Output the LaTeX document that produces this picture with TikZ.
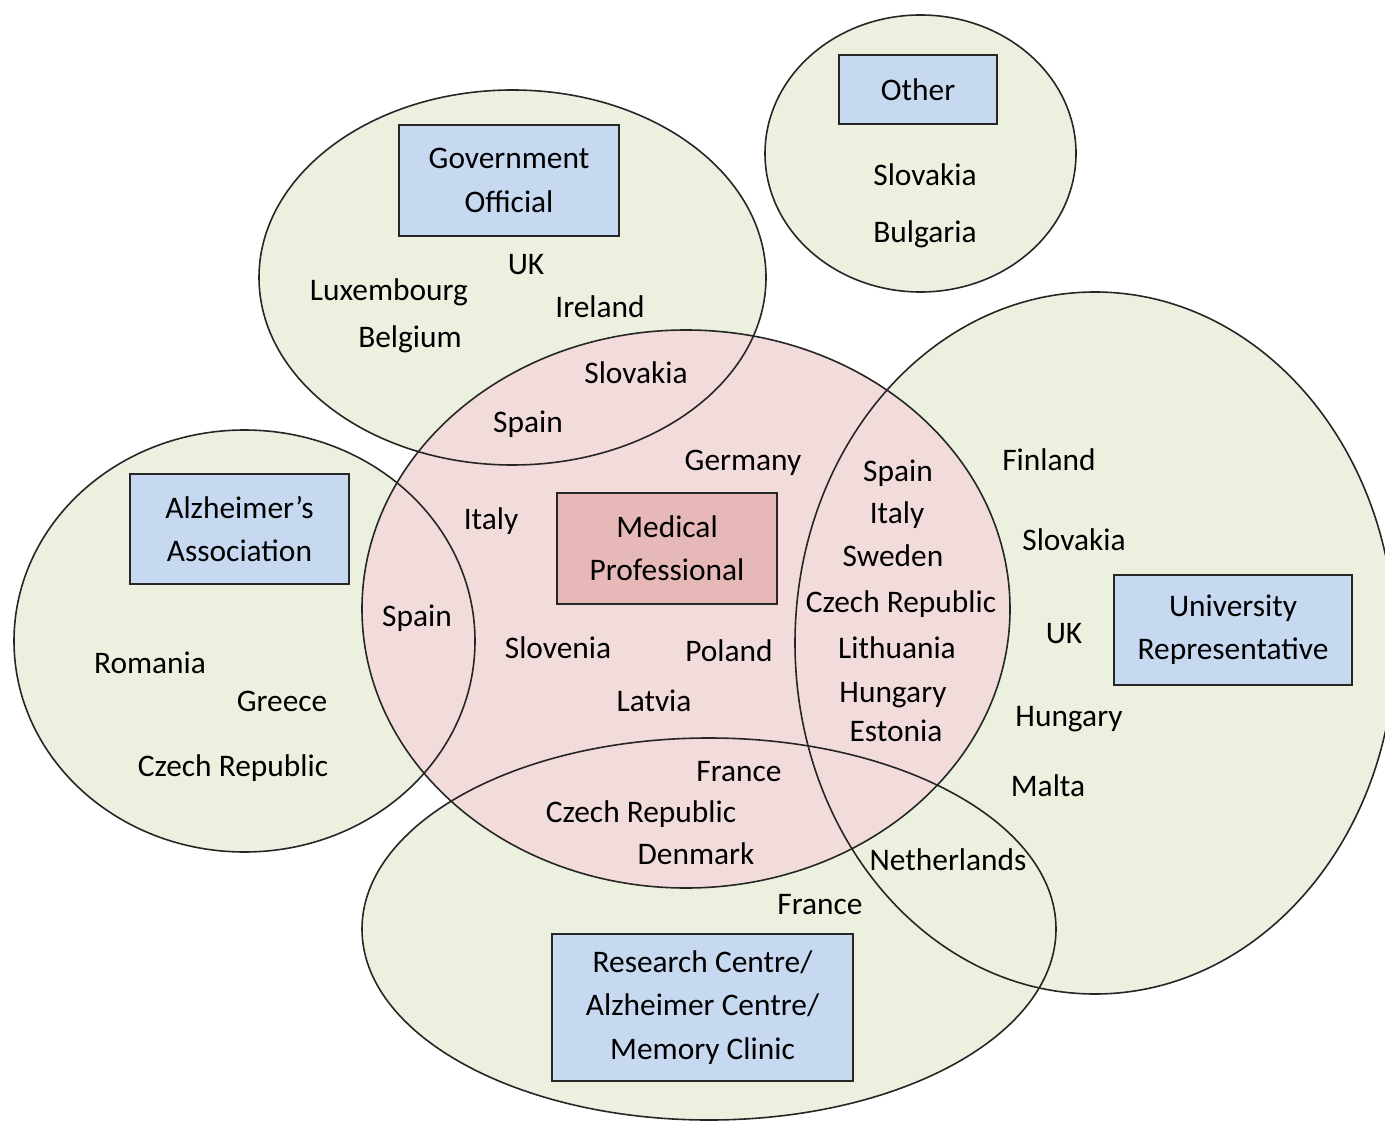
\documentclass[tikz,border=0pt]{standalone}
\usepackage{fontspec}
\setmainfont{Carlito}
\usetikzlibrary{shapes}

\definecolor{grn}{HTML}{EBF1DE}
\definecolor{pnk}{HTML}{F2DCDB}
\definecolor{blu}{HTML}{C6D9F1}
\definecolor{rose}{HTML}{E6B9B8}

\begin{document}
\begin{tikzpicture}[x=0.5pt,y=-0.5pt,
  every node/.style={font=\fontsize{15.7}{21.7}\selectfont},
  ring/.style={draw=black!85, line width=0.8pt},
  box/.style={draw=black!85, line width=1.1pt, fill=blu, align=center, inner sep=0pt},
  lbl/.style={inner sep=0pt, text height=10pt, text depth=0pt}]

\useasboundingbox (0,0) rectangle (1385,1122);
\clip (0,0) rectangle (1385,1122);

% group fills
\fill[grn] (920.5,153.5) ellipse [x radius=155.5, y radius=138.5];
\fill[grn] (512.5,277.5) ellipse [x radius=253.5, y radius=187.5];
\fill[grn] (244.5,641) ellipse [x radius=230.5, y radius=211];
\fill[grn] (1095,643) ellipse [x radius=300, y radius=351];
\fill[grn] (709,929) ellipse [x radius=347, y radius=191];
\fill[pnk] (686,609) ellipse [x radius=324, y radius=279];

% outlines
\draw[ring] (920.5,153.5) ellipse [x radius=155.5, y radius=138.5];
\draw[ring] (512.5,277.5) ellipse [x radius=253.5, y radius=187.5];
\draw[ring] (244.5,641) ellipse [x radius=230.5, y radius=211];
\draw[ring] (1095,643) ellipse [x radius=300, y radius=351];
\draw[ring] (709,929) ellipse [x radius=347, y radius=191];
\draw[ring] (686,609) ellipse [x radius=324, y radius=279];

% boxes
\node[box, minimum width=79pt, minimum height=34.5pt] (oth) at (918,89.5) {Other};
\node[box, minimum width=110pt, minimum height=55.5pt] (gov) at (509,180.5) {Government\\Official};
\node[box, fill=rose, minimum width=110pt, minimum height=55.5pt] (med) at (667,548.5) {Medical\\Professional};
\node[box, minimum width=109.5pt, minimum height=55pt] (alz) at (239.5,529) {Alzheimer’s\\Association};
\node[box, minimum width=119pt, minimum height=55pt] (uni) at (1233,630) {University\\Representative};
\node[box, minimum width=150.5pt, minimum height=73.5pt] (res) at (702.5,1007.5) {Research Centre/\\Alzheimer Centre/\\Memory Clinic};

% other
\node[lbl] (othSK) at (925,176) {Slovakia};
\node[lbl] (othBG) at (925,233) {Bulgaria};

% government
\node[lbl] (govUK) at (526,265) {UK};
\node[lbl] (govLU) at (389,291) {Luxembourg};
\node[lbl] (govIE) at (600,308) {Ireland};
\node[lbl] (govBE) at (410,338) {Belgium};
\node[lbl] (govmedSK) at (636,374) {Slovakia};
\node[lbl] (govmedES) at (528,423) {Spain};

% medical
\node[lbl] (medDE) at (743,461) {Germany};
\node[lbl] (medIT) at (491,519) {Italy};
\node[lbl] (medSI) at (558,648) {Slovenia};
\node[lbl] (medPL) at (729,651) {Poland};
\node[lbl] (medLV) at (654,701) {Latvia};
\node[lbl] (alzmedES) at (417,616) {Spain};

% medical and university
\node[lbl] (unimedES) at (898,471) {Spain};
\node[lbl] (unimedIT) at (897,513) {Italy};
\node[lbl] (unimedSE) at (893,556) {Sweden};
\node[lbl] (unimedCZ) at (901,602) {Czech Republic};
\node[lbl] (unimedLT) at (897,648) {Lithuania};
\node[lbl] (unimedHU) at (893,692) {Hungary};
\node[lbl] (unimedEE) at (896,731) {Estonia};

% university
\node[lbl] (uniFI) at (1049,461) {Finland};
\node[lbl] (uniSK) at (1074,540) {Slovakia};
\node[lbl] (uniUK) at (1064,633) {UK};
\node[lbl] (uniHU) at (1069,716) {Hungary};
\node[lbl] (uniMT) at (1048,786) {Malta};

% alzheimer
\node[lbl] (alzRO) at (150,663) {Romania};
\node[lbl] (alzGR) at (282,701) {Greece};
\node[lbl] (alzCZ) at (233,766) {Czech Republic};

% research
\node[lbl] (resmedFR) at (739,771) {France};
\node[lbl] (resmedCZ) at (641,812) {Czech Republic};
\node[lbl] (resmedDK) at (696,854) {Denmark};
\node[lbl] (resuniNL) at (948,860) {Netherlands};
\node[lbl] (resFR) at (820,904) {France};

\end{tikzpicture}
\end{document}
